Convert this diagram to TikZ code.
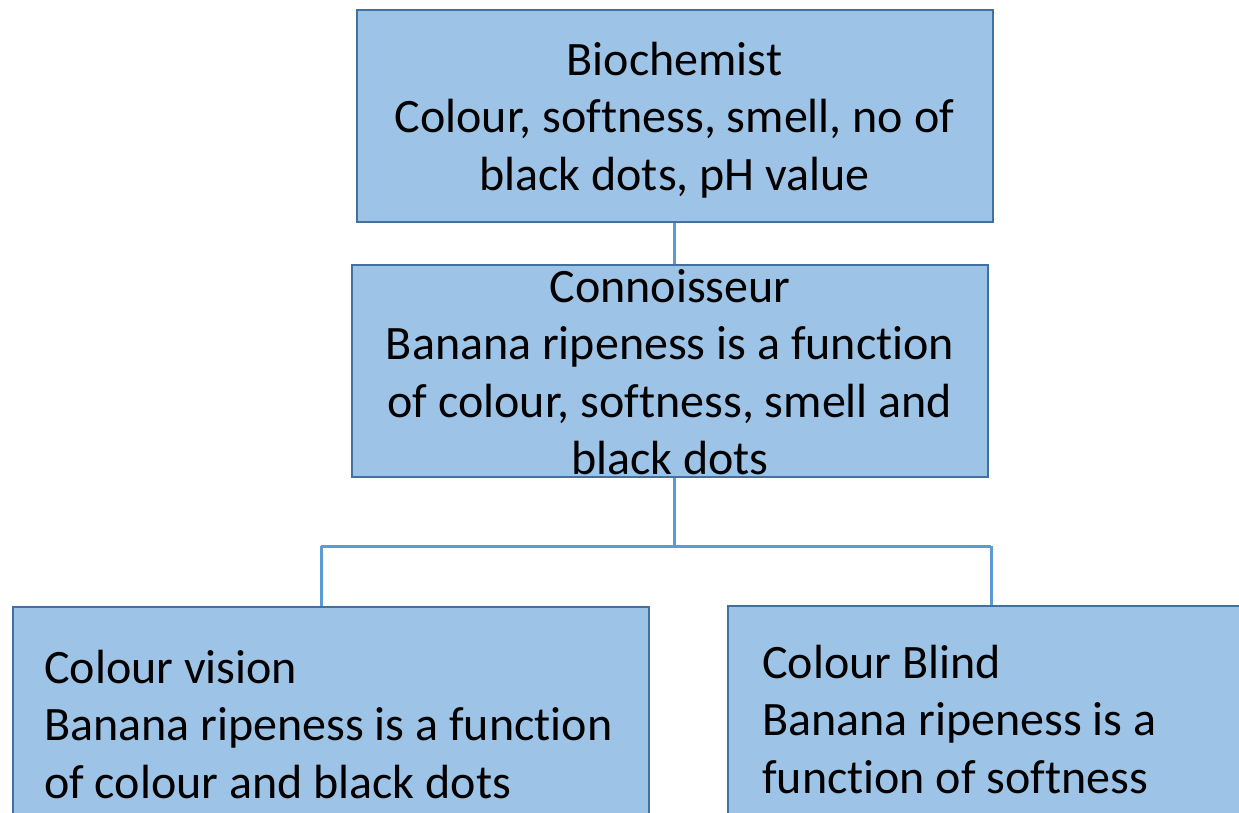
\documentclass[tikz,border=0pt]{standalone}
\usepackage{fontspec}
\setmainfont{Carlito}[Ligatures=CommonOff]
\usepackage{tikz}
\definecolor{boxfill}{HTML}{9DC3E6}
\definecolor{boxline}{HTML}{41719C}
\definecolor{linkline}{HTML}{5B9BD5}
\tikzstyle{box}=[draw=boxline,fill=boxfill,line width=2pt,rectangle,minimum width=636pt]
\tikzstyle{boxfont}=[font=\fontsize{48}{57.5}\selectfont,inner sep=0pt]
\tikzstyle{midtext}=[boxfont,align=center]
\tikzstyle{leafbox}=[box,anchor=north west]
\tikzstyle{leaftext}=[boxfont,align=left,anchor=west]
\tikzstyle{link}=[draw=linkline,line width=3pt]

\begin{document}
\begin{tikzpicture}[x=1pt,y=-1pt]
  \clip (0,0) rectangle (1239,812);
  \node(bio)[box,minimum height=212pt] at (674.5,116) {};
  \node(con)[box,minimum height=212pt] at (670,371) {};
  \node(cv)[leafbox,minimum height=238pt] at (12,606) {};
  \node(cb)[leafbox,minimum height=230pt] at (727,605) {};
  \node(biotext)[midtext] at ([yshift=-4pt]bio.center) {Biochemist\\Colour, softness, smell, no of\\black dots, pH value};
  \node(context)[midtext] at ([yshift=-1pt]con.center) {Connoisseur\\Banana ripeness is a function\\of colour, softness, smell and\\black dots};
  \node(cvtext)[leaftext] at ([xshift=32pt,yshift=2pt]cv.west) {Colour vision\\Banana ripeness is a function\\of colour and black dots};
  \node(cbtext)[leaftext] at ([xshift=35pt,yshift=2pt]cb.west) {Colour Blind\\Banana ripeness is a\\function of softness};
  \coordinate(jl) at (321,546);
  \coordinate(jr) at (991,546);
  \path[link] (bio.south -| 674,0) -- (con.north -| 674,0)
              (con.south -| 674,0) -- (jl -| 674,0)
              (jl) -- (jr)
              (jl) -- (jl |- cv.north)
              (jr) -- (jr |- cb.north);
\end{tikzpicture}
\end{document}
